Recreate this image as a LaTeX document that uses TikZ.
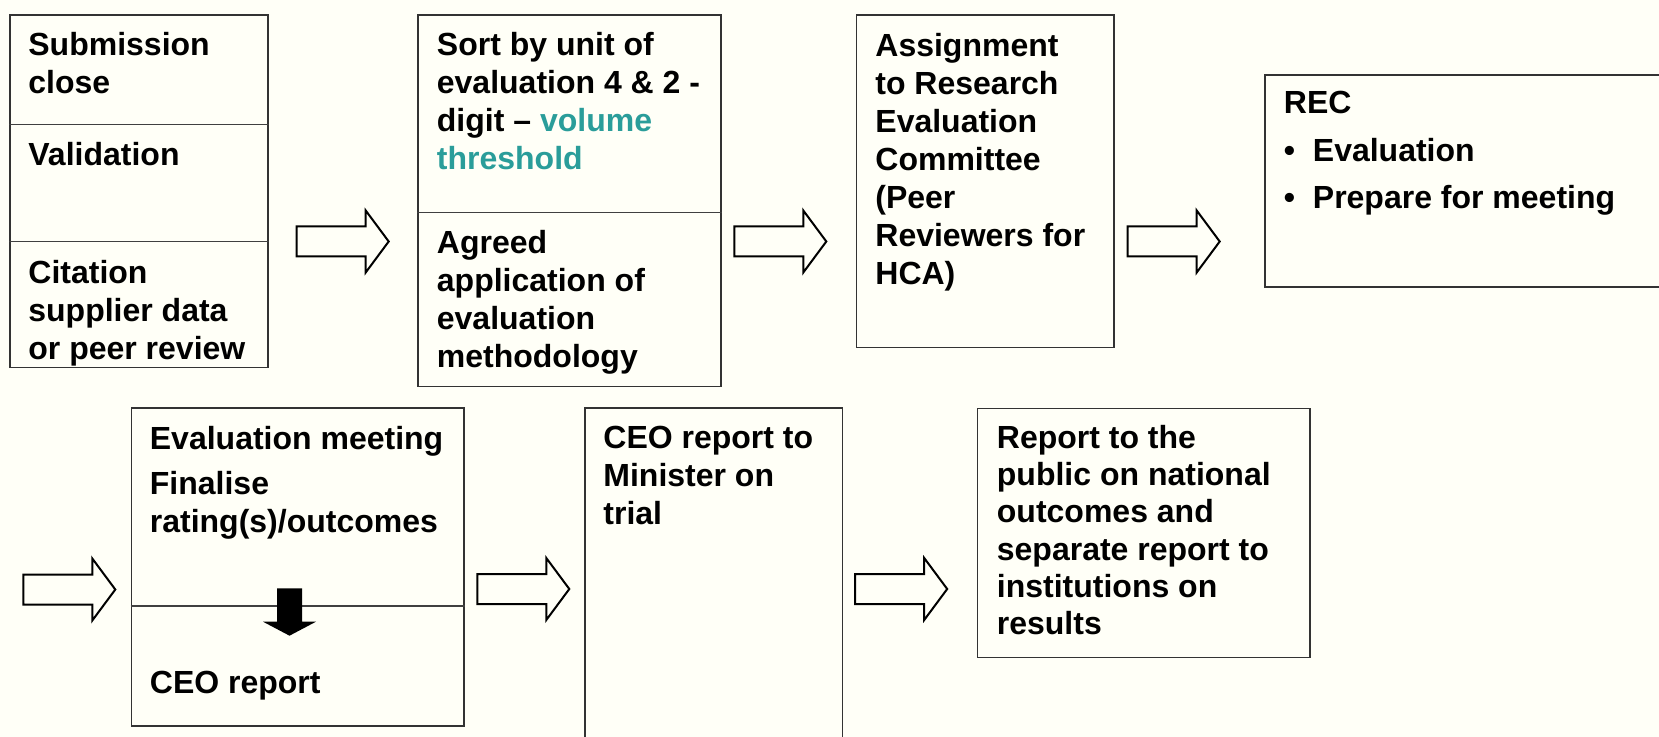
\documentclass[tikz,border=0pt]{standalone}
\usepackage{fontspec}
\setmainfont{Liberation Sans}
\usetikzlibrary{
  calc,
  positioning
}
\definecolor{paper}{RGB}{255,255,247}
\definecolor{tealtext}{RGB}{42,157,154}
\newcommand{\boxfont}{\fontsize{16}{19}\selectfont\bfseries}
\tikzset{
  stage/.style={draw=black!80,line width=0.75pt,inner sep=0pt,anchor=north west},
  stagetext/.style={anchor=north west,inner sep=0pt,align=left,font=\boxfont,
    execute at begin node=\strut},
  divider/.style={draw=black!75,line width=0.75pt},
  blockarrow/.pic={
    \draw[line width=1pt,fill=paper] (0,-15) -- (69,-15) -- (69,-31) -- (92,0)
      -- (69,31) -- (69,15) -- (0,15) -- cycle;
  }
}

\begin{document}
\begin{tikzpicture}[x=0.5pt,y=-0.5pt]
  \useasboundingbox (0,0) rectangle (1659,737);
  \fill[paper] (0,0) rectangle (1659,737);

  \node[stage,minimum width=129pt,minimum height=176.35pt] at (9,14.3) (Submit) {};
  \node[stage,minimum width=151.35pt,minimum height=185.85pt] at (417.3,14.3) (Sort) {};
  \node[stage,minimum width=128.65pt,minimum height=166.35pt] at (855.7,14.3) (Assign) {};
  \node[stage,minimum width=200pt,minimum height=106pt] at (1264.4,74.5) (REC) {};
  \node[stage,minimum width=166.15pt,minimum height=158.85pt] at (130.7,407.3) (Meeting) {};
  \node[stage,minimum width=128.75pt,minimum height=170pt] at (584,407.5) (CEO) {};
  \node[stage,minimum width=166.35pt,minimum height=124.5pt] at (976.6,407.7) (Public) {};

  \draw[divider] (Submit.west |- 0,124.3) -- (Submit.east |- 0,124.3);
  \draw[divider] (Submit.west |- 0,241.7) -- (Submit.east |- 0,241.7);
  \draw[divider] (Sort.west |- 0,212.3) -- (Sort.east |- 0,212.3);
  \draw[divider] (Meeting.west |- 0,606) -- (Meeting.east |- 0,606);

  \node[stagetext] at (28,31.6) (SubmitA) {Submission\\close};
  \node[stagetext] at (28,138.5) (SubmitB) {Validation};
  \node[stagetext] at (28,260.2) (SubmitC) {Citation\\supplier data\\or peer review};
  \node[stagetext] at (436.5,32) (SortA)
    {Sort by unit of\\evaluation 4 \& 2 -\\digit -- \textcolor{tealtext}{volume}\\\textcolor{tealtext}{threshold}};
  \node[stagetext] at (436.5,230) (SortB)
    {Agreed\\application of\\evaluation\\methodology};
  \node[stagetext] at (875,32.7) (AssignA)
    {Assignment\\to Research\\Evaluation\\Committee\\(Peer\\Reviewers for\\HCA)};
  \node[stagetext] at (1283.5,90.5) (RECA)
    {REC\\[5.3pt]\makebox[14.5pt][l]{\textbullet}Evaluation\\[4.3pt]\makebox[14.5pt][l]{\textbullet}Prepare for meeting};
  \node[stagetext] at (149.5,425.5) (MeetingA)
    {Evaluation meeting\\[3.5pt]Finalise\\rating(s)/outcomes};
  \node[stagetext] at (149.5,666.2) (MeetingB) {CEO report};
  \node[stagetext] at (603,426) (CEOA) {CEO report to\\Minister on\\trial};
  \node[stagetext,font=\fontsize{16}{18.6}\selectfont\bfseries] at (996.5,425) (PublicA)
    {Report to the\\public on national\\outcomes and\\separate report to\\institutions on\\results};

  \pic at (296.7,241.5) {blockarrow};
  \pic at (734.3,241.5) {blockarrow};
  \pic at (1127.7,241.5) {blockarrow};
  \pic at (23.3,589.5) {blockarrow};
  \pic at (477.3,589) {blockarrow};
  \pic at (855.2,589) {blockarrow};

  \fill (277,588.3) -- (302,588.3) -- (302,621.7) -- (316,621.7) -- (289.5,635.7)
    -- (263,621.7) -- (277,621.7) -- cycle;
\end{tikzpicture}
\end{document}
